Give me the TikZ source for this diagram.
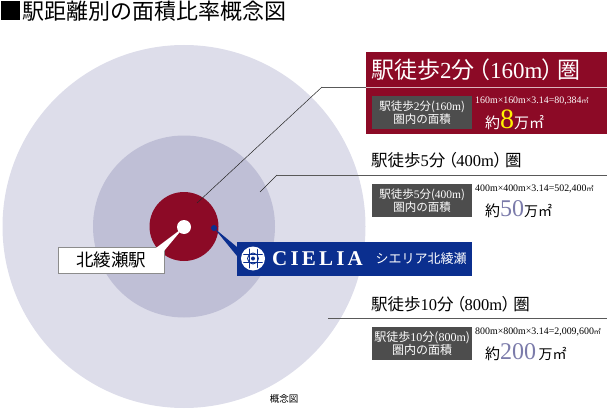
\documentclass[tikz,border=0pt]{standalone}
\usepackage{fontspec}
\setmainfont{Liberation Serif}
\newfontfamily\cjk{Noto Sans CJK JP}
\newfontfamily\cjkp[RawFeature=+palt]{Noto Sans CJK JP}
\usepackage{tikz}
\usetikzlibrary{calc}
\definecolor{outerring}{RGB}{221,221,234}
\definecolor{middlering}{RGB}{191,191,214}
\definecolor{winered}{RGB}{140,10,38}
\definecolor{boxgrey}{RGB}{77,77,77}
\definecolor{cieliablue}{RGB}{11,47,143}
\definecolor{bignum}{RGB}{123,123,170}
\newcommand{\fsz}[1]{\fontsize{#1}{#1}\selectfont}
\newcommand{\jp}[1]{{\cjk #1}}
\newcommand{\jq}[1]{{\cjkp #1}}
\tikzset{
	txt/.style={inner sep=0pt, anchor=west},
	areabox/.style={fill=boxgrey, text=white, inner sep=0pt, minimum width=100pt, minimum height=33pt, align=center, font=\fsz{11.5}},
	leader/.style={draw=black!65, line width=0.8pt},
	thinleader/.style={draw=black!85, line width=0.5pt},
}
\begin{document}
\begin{tikzpicture}[x=1pt, y=-1pt]
	\useasboundingbox (0,0) rectangle (607,409);
	% rings
	\fill[outerring] (184,226.5) circle (181.5);
	\fill[middlering] (184,226.5) circle (91);
	\fill[winered] (184,226.5) circle (34.5);
	\node (station) [circle, fill=white, minimum size=14pt, inner sep=0pt] at (184,227) {};
	\node (pin) [circle, fill=cieliablue, minimum size=6pt, inner sep=0pt] at (214,228) {};
	% title
	\node (marker) [fill=black, minimum size=19pt, inner sep=0pt] at (10.5,10.5) {};
	\node (title) [txt] at (22,11) {\fsz{22}\jp{駅距離別の面積比率概念図}};
	% 2 min
	\node (redbox) [fill=winered, minimum width=241pt, minimum height=82pt, inner sep=0pt, anchor=north west] at (366,52) {};
	\coordinate (redline) at (redbox.west |- 0,87);
	\draw[white!70!winered, line width=0.8pt] (redline) -- (redline -| redbox.east);
	\node (headA) [txt, text=white] at (371,70) {\fsz{23}\jq{駅徒歩}2\jq{分}\,\jq{（}160m\jq{）}\,\jq{圏}};
	\node (boxA) [areabox, anchor=north west] at (372,96) {\jp{駅徒歩}2\jp{分(}160m\jp{)}\\\jp{圏内の面積}};
	\node (calcA) [txt, text=white] at (475,101) {\fsz{9.9}160m×160m×3.14=80,384\jp{\fsz{7}㎡}};
	\node (sumA) [txt, text=white] at (485,120) {\fsz{15}\jp{約}{\fsz{28}\color{yellow}8}\jp{万㎡}};
	% 5 min
	\node (headB) [txt] at (371,160) {\fsz{16.5}\jq{駅徒歩}5\jq{分}\,\jq{（}400m\jq{）}\,\jq{圏}};
	\coordinate (lineB) at (277,175);
	\node (boxB) [areabox, anchor=north west] at (372,184) {\jp{駅徒歩}5\jp{分(}400m\jp{)}\\\jp{圏内の面積}};
	\node (calcB) [txt] at (475,189) {\fsz{9.9}400m×400m×3.14=502,400\jp{\fsz{7}㎡}};
	\node (sumB) [txt] at (485,209) {\fsz{15}\jp{約}{\fsz{24}\color{bignum}50}\jp{\fsz{14}万㎡}};
	% 10 min
	\node (headC) [txt] at (371,304) {\fsz{16.5}\jq{駅徒歩}10\jq{分}\,\jq{（}800m\jq{）}\,\jq{圏}};
	\coordinate (lineC) at (328,318);
	\node (boxC) [areabox, anchor=north west, font=\fsz{12}] at (372,327) {\jp{駅徒歩}10\jp{分(}800m\jp{)}\\\jp{圏内の面積}};
	\node (calcC) [txt] at (475,332) {\fsz{9.9}800m×800m×3.14=2,009,600\jp{\fsz{7}㎡}};
	\node (sumC) [txt] at (485,352) {\fsz{15}\jp{約}{\fsz{24}\color{bignum}200}\,\jp{\fsz{14}万㎡}};
	% leaders
	\coordinate (ringA) at (197,203);
	\coordinate (ringB) at (260,192);
	\coordinate (elbowA) at (322,87);
	\draw[thinleader] (ringA) -- (elbowA);
	\draw[leader] (elbowA) -- (redline);
	\draw[thinleader] (ringB) -- (lineB);
	\draw[leader] (lineB) -- (607,175);
	\draw[leader] (lineC) -- (607,318);
	% station label
	\node (stationlabel) [draw=black!45, fill=white, minimum width=106pt, minimum height=26pt, inner sep=0pt, font=\fsz{17.5}] at (111,260) {\jp{北綾瀬駅}};
	\fill[white] ($(stationlabel.north east)+(-8,1)$) -- (station.center) -- ($(stationlabel.north east)+(0,4)$) -- cycle;
	% cielia label
	\node (cieliabox) [fill=cieliablue, minimum width=235pt, minimum height=34pt, inner sep=0pt, anchor=north west] at (237,242) {};
	\fill[cieliablue] (pin.center) -- (cieliabox.north west |- 0,247) -- (cieliabox.north west |- 0,256) -- cycle;
	\node (logo) [circle, fill=white, minimum size=24pt, inner sep=0pt] at (253,258.5) {};
	\begin{scope}[cieliablue, line width=0.9pt]
		\clip (logo.center) circle (10.5);
		\draw (logo.center) circle (5.5);
		\draw ($(logo.center)+(-12,-4)$) -- ++(24,0);
		\draw ($(logo.center)+(-12,4)$) -- ++(24,0);
		\draw ($(logo.center)+(-4,-12)$) -- ++(0,24);
		\draw ($(logo.center)+(4,-12)$) -- ++(0,24);
		\fill (logo.center) circle (2);
	\end{scope}
	\node (cieliatext) [txt, text=white] at (272,259) {\fsz{21}\bfseries C\kern3.2pt I\kern3.2pt E\kern3.2pt L\kern3.2pt I\kern3.2pt A};
	\node (cieliakana) [txt, text=white] at (375.5,258.5) {\fsz{13}\jp{シエリア北綾瀬}};
	% note
	\node (note) [font=\fsz{9.5}] at (284,399) {\jp{概念図}};
\end{tikzpicture}
\end{document}
